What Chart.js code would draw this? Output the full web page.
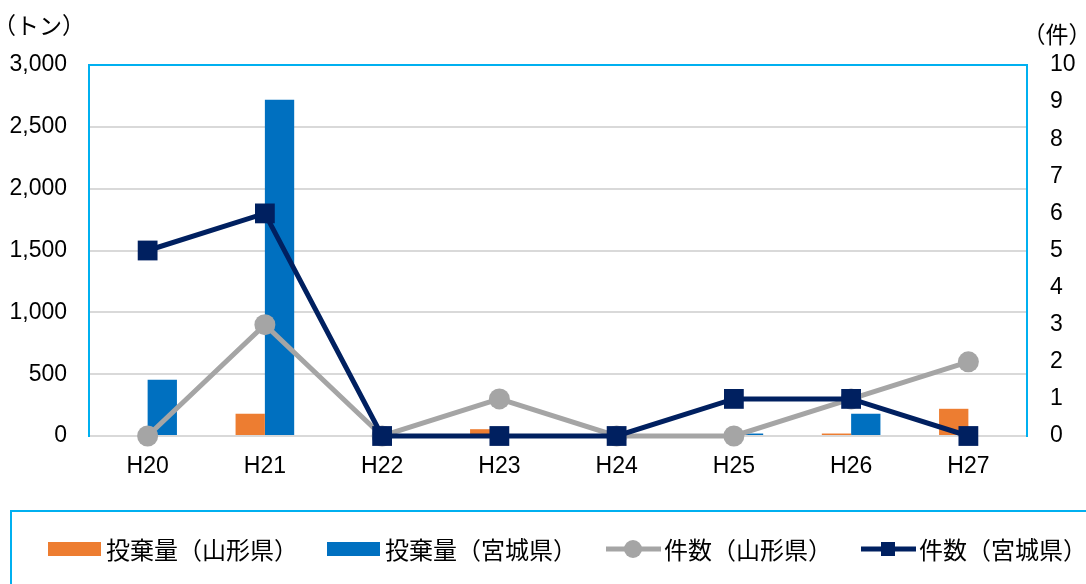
<!DOCTYPE html>
<html lang="ja">
<head>
<meta charset="utf-8">
<title>不法投棄の推移</title>
<script src="https://cdn.jsdelivr.net/npm/chart.js@4.4.0/dist/chart.umd.min.js"></script>
<style>
  html, body { margin: 0; background: #fff; }
  #wrap { width: 1086px; height: 584px; position: relative; }
</style>
</head>
<body>
<div id="wrap"><canvas id="dumpChart"></canvas></div>
<script>
// 年度
const years = ["H20", "H21", "H22", "H23", "H24", "H25", "H26", "H27"];
// 投棄量（トン）
const tonsYamagata = [0, 180, 0, 55, 0, 0, 20, 220];
const tonsMiyagi = [455, 2720, 0, 0, 0, 20, 180, 0];
// 件数
const casesYamagata = [0, 3, 0, 1, 0, 0, 1, 2];
const casesMiyagi = [5, 6, 0, 0, 0, 1, 1, 0];

const tonMax = 3000, tonStep = 500;
const caseMax = 10, caseStep = 1;
const tonUnit = "（トン）";
const caseUnit = "（件）";

const ORANGE = "#ED7D31", BLUE = "#0070C0", GRAY = "#A5A5A5", NAVY = "#002060";
const FRAME = "#00B0F0", GRID = "#D9D9D9";
const JP = "'Noto Sans CJK JP', 'Noto Sans', sans-serif";
const NUM = "'Liberation Sans', Arial, sans-serif";

// legend symbol for one dataset, drawn with its left edge at x
function drawSymbol(ctx, ds, x, y) {
  const color = ds.borderColor || ds.backgroundColor;
  ctx.fillStyle = color;
  ctx.strokeStyle = color;
  if (ds.type === "bar") {
    ctx.fillRect(x, y - 7, 53, 14);
    return;
  }
  ctx.lineWidth = 5;
  ctx.beginPath(); ctx.moveTo(x, y); ctx.lineTo(x + 55, y); ctx.stroke();
  if (ds.pointStyle === "circle") {
    ctx.beginPath(); ctx.arc(x + 27, y, 9, 0, Math.PI * 2); ctx.fill();
  } else {
    ctx.fillRect(x + 20, y - 7, 14, 14);
  }
}

// plot frame, unit captions and the boxed legend underneath
const decor = {
  id: "decor",
  beforeDatasetsDraw(chart) {
    const { ctx, chartArea: a } = chart;
    ctx.save();
    ctx.strokeStyle = FRAME;
    ctx.lineWidth = 2;
    ctx.beginPath();
    ctx.moveTo(a.left, a.bottom);
    ctx.lineTo(a.left, a.top);
    ctx.lineTo(a.right, a.top);
    ctx.lineTo(a.right, a.bottom);
    ctx.stroke();
    ctx.restore();
  },
  afterDraw(chart) {
    const { ctx } = chart;
    ctx.save();
    ctx.fillStyle = "#000";
    ctx.font = "23px " + JP;
    ctx.textAlign = "center";
    ctx.textBaseline = "middle";
    ctx.fillText(tonUnit, 39, 25);
    ctx.fillText(caseUnit, 1057, 34);

    ctx.strokeStyle = FRAME;
    ctx.lineWidth = 2;
    ctx.strokeRect(11, 511, 1100, 120);

    ctx.font = "24px " + JP;
    ctx.textAlign = "left";
    const y = 549;
    let x = 48;
    chart.data.datasets.forEach(ds => {
      ctx.save();
      drawSymbol(ctx, ds, x, y);
      ctx.restore();
      ctx.fillStyle = "#000";
      ctx.fillText(ds.label, x + 58, y + 1);
      x += 58 + ctx.measureText(ds.label).width + 29;
    });
    ctx.restore();
  }
};

new Chart(document.getElementById("dumpChart"), {
  data: {
    labels: years,
    datasets: [
      { type: "bar", label: "投棄量（山形県）", data: tonsYamagata, backgroundColor: ORANGE, yAxisID: "y", order: 3 },
      { type: "bar", label: "投棄量（宮城県）", data: tonsMiyagi, backgroundColor: BLUE, yAxisID: "y", order: 4 },
      {
        type: "line", label: "件数（山形県）", data: casesYamagata, yAxisID: "y1", order: 2,
        borderColor: GRAY, backgroundColor: GRAY, borderWidth: 5, tension: 0,
        pointStyle: "circle", pointRadius: 10.5, pointBorderWidth: 0, clip: false
      },
      {
        type: "line", label: "件数（宮城県）", data: casesMiyagi, yAxisID: "y1", order: 1,
        borderColor: NAVY, backgroundColor: NAVY, borderWidth: 5, tension: 0,
        pointStyle: "rect", pointRadius: 14, pointBorderWidth: 0, clip: false
      }
    ]
  },
  options: {
    responsive: true,
    maintainAspectRatio: false,
    animation: false,
    devicePixelRatio: 1,
    layout: { padding: { top: 65, left: 0, right: 0, bottom: 78 } },
    datasets: { bar: { categoryPercentage: 0.5, barPercentage: 1.0 } },
    plugins: {
      tooltip: { enabled: false },
      legend: { display: false }
    },
    scales: {
      x: {
        afterFit: s => { s.height = 70; },
        grid: { display: false, drawTicks: false },
        border: { color: GRID, width: 2 },
        ticks: { color: "#000", padding: 17, font: { family: NUM, size: 23 } }
      },
      y: {
        position: "left",
        min: 0, max: tonMax,
        afterFit: s => { s.width = 89; },
        grid: { color: GRID, lineWidth: 2, drawTicks: false },
        border: { color: FRAME, width: 2 },
        ticks: {
          stepSize: tonStep, color: "#000", padding: 22,
          font: { family: NUM, size: 23 },
          callback: v => v.toLocaleString("en-US")
        }
      },
      y1: {
        position: "right",
        min: 0, max: caseMax,
        afterFit: s => { s.width = 59; },
        grid: { drawOnChartArea: false, drawTicks: false },
        border: { color: FRAME, width: 2 },
        ticks: { stepSize: caseStep, color: "#000", padding: 23, font: { family: NUM, size: 23 } }
      }
    }
  },
  plugins: [decor]
});
</script>
</body>
</html>
